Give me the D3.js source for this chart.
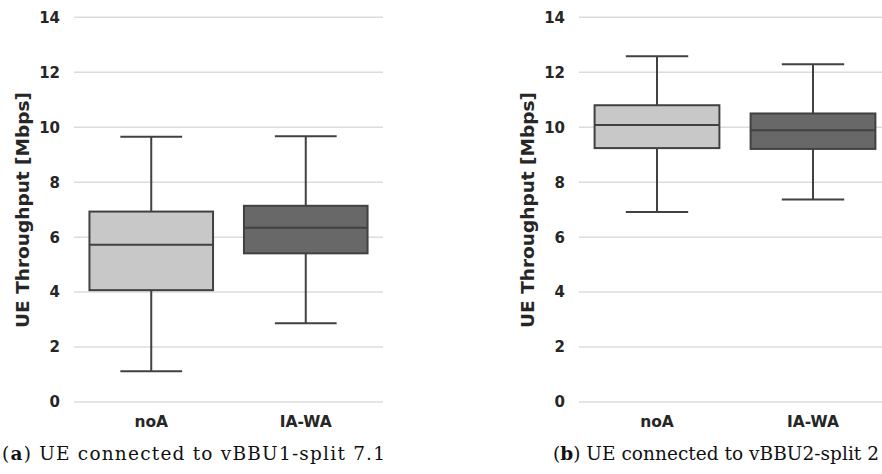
<!DOCTYPE html>
<html>
<head>
<meta charset="utf-8">
<script src="https://cdn.jsdelivr.net/npm/d3@7"></script>
<style>
  body { margin: 0; background: #fff; }
  svg { display: block; }
  .tick-label { font-family: "DejaVu Sans", sans-serif; font-weight: bold; font-size: 15px; fill: #262626; }
  .x-label { font-size: 15.5px; }
  .axis-label { font-family: "DejaVu Sans", sans-serif; font-weight: bold; font-size: 18.5px; fill: #262626; }
  .caption { font-family: "DejaVu Serif", serif; font-size: 18.5px; fill: #111; }
</style>
</head>
<body>
<svg id="chart" width="882" height="474"></svg>
<script>
// data
const categories = ["noA", "IA-WA"];
const yTicks = [0, 2, 4, 6, 8, 10, 12, 14];
// [whiskerLow, q1, median, q3, whiskerHigh]
const split71 = [
  [1.12, 4.07, 5.72, 6.93, 9.65],
  [2.87, 5.41, 6.34, 7.14, 9.67],
];
const split2 = [
  [6.91, 9.24, 10.08, 10.8, 12.58],
  [7.37, 9.21, 9.89, 10.5, 12.29],
];
const fills = ["#c8c8c8", "#686868"];

const svg = d3.select("#chart");

const y = d3.scaleLinear().domain([0, 14]).range([402, 17.3]);

const boxPanel = (props) => {
  const { x0, x1, data, label, captionX, captionLen, captionBold, captionRest } = props;

  const g = svg.append("g");

  const x = d3.scaleBand().domain(categories).range([x0, x1]);
  const bw = x.bandwidth() * 0.8;

  // gridlines
  g.selectAll(".grid")
    .data(yTicks)
    .enter()
    .append("line")
    .attr("x1", x0)
    .attr("x2", x1)
    .attr("y1", (d) => y(d))
    .attr("y2", (d) => y(d))
    .attr("stroke", "#dcdcdc")
    .attr("stroke-width", 1.5);

  g.selectAll(".ytick")
    .data(yTicks)
    .enter()
    .append("text")
    .attr("class", "tick-label")
    .attr("x", x0 - 14)
    .attr("y", (d) => y(d))
    .attr("dy", "0.36em")
    .attr("text-anchor", "end")
    .text((d) => d);

  g.selectAll(".xtick")
    .data(categories)
    .enter()
    .append("text")
    .attr("class", "tick-label x-label")
    .attr("x", (d) => x(d) + x.bandwidth() / 2)
    .attr("y", 427)
    .attr("text-anchor", "middle")
    .text((d) => d);

  g.append("text")
    .attr("class", "axis-label")
    .attr("transform", `translate(${x0 - 45},${210}) rotate(-90)`)
    .attr("text-anchor", "middle")
    .text(label);

  const boxes = g.selectAll(".box")
    .data(data)
    .enter()
    .append("g")
    .attr("transform", (d, i) => `translate(${x(categories[i]) + x.bandwidth() / 2},0)`);

  const stroke = "#414141";

  // whiskers
  boxes.append("line")
    .attr("x1", 0).attr("x2", 0)
    .attr("y1", (d) => y(d[0])).attr("y2", (d) => y(d[1]))
    .attr("stroke", stroke).attr("stroke-width", 2);
  boxes.append("line")
    .attr("x1", 0).attr("x2", 0)
    .attr("y1", (d) => y(d[3])).attr("y2", (d) => y(d[4]))
    .attr("stroke", stroke).attr("stroke-width", 2);
  // caps
  [0, 4].forEach((k) => {
    boxes.append("line")
      .attr("x1", -bw / 4).attr("x2", bw / 4)
      .attr("y1", (d) => y(d[k])).attr("y2", (d) => y(d[k]))
      .attr("stroke", stroke).attr("stroke-width", 2);
  });
  boxes.append("rect")
    .attr("x", -bw / 2)
    .attr("width", bw)
    .attr("y", (d) => y(d[3]))
    .attr("height", (d) => y(d[1]) - y(d[3]))
    .attr("fill", (d, i) => fills[i])
    .attr("stroke", stroke)
    .attr("stroke-width", 2);
  boxes.append("line")
    .attr("x1", -bw / 2).attr("x2", bw / 2)
    .attr("y1", (d) => y(d[2])).attr("y2", (d) => y(d[2]))
    .attr("stroke", stroke).attr("stroke-width", 2);

  const cap = g.append("text")
    .attr("class", "caption")
    .attr("x", captionX)
    .attr("y", 460)
    .attr("textLength", captionLen)
    .attr("lengthAdjust", "spacing");
  cap.append("tspan").text("(");
  cap.append("tspan").attr("font-weight", "bold").text(captionBold);
  cap.append("tspan").text(captionRest);
};

boxPanel({
  x0: 74, x1: 383, data: split71, label: "UE Throughput [Mbps]",
  captionX: 2, captionLen: 383, captionBold: "a", captionRest: ") UE connected to vBBU1-split 7.1",
});
boxPanel({
  x0: 579, x1: 891, data: split2, label: "UE Throughput [Mbps]",
  captionX: 553, captionLen: 326, captionBold: "b", captionRest: ") UE connected to vBBU2-split 2",
});
</script>
</body>
</html>
